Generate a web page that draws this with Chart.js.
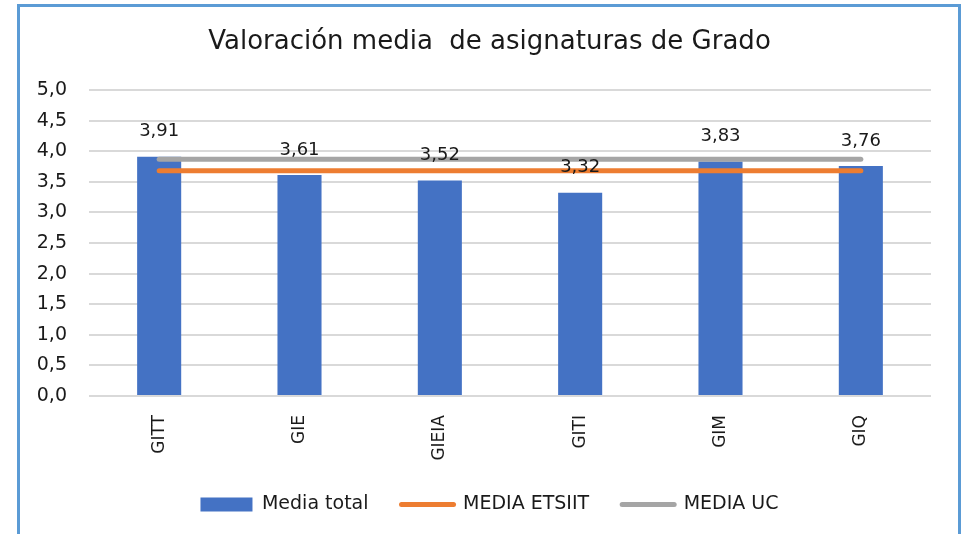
<!DOCTYPE html>
<html>
<head>
<meta charset="utf-8">
<script src="https://cdn.jsdelivr.net/npm/chart.js@4/dist/chart.umd.min.js"></script>
<style>
  html, body { margin: 0; padding: 0; background: #fff; overflow: hidden; }
  #wrap { position: relative; width: 962px; height: 534px; }
  #c { position: absolute; left: 0; top: 0; }
  #frame { position: absolute; left: 17px; top: 4px; width: 938px; height: 700px;
           border: 3px solid #5B9BD5; pointer-events: none; }
</style>
</head>
<body>
<div id="wrap">
  <canvas id="c" width="962" height="534"></canvas>
  <div id="frame"></div>
</div>
<script>
const TITLE = 'Valoración media  de asignaturas de Grado';
const CATEGORIES = ['GITT', 'GIE', 'GIEIA', 'GITI', 'GIM', 'GIQ'];
const MEDIA_TOTAL = [3.91, 3.61, 3.52, 3.32, 3.83, 3.76];
const MEDIA_ETSIIT = [3.68, 3.68, 3.68, 3.68, 3.68, 3.68];
const MEDIA_UC = [3.87, 3.87, 3.87, 3.87, 3.87, 3.87];
const Y_TICK_LABELS = ['0,0', '0,5', '1,0', '1,5', '2,0', '2,5', '3,0', '3,5', '4,0', '4,5', '5,0'];

const FONT = 'DejaVu Sans';
const TEXT = '#1a1a1a';
const PAD_L = 17;

const fmt = v => v.toFixed(2).replace('.', ',');

const dataLabels = {
  id: 'dataLabels',
  afterDatasetsDraw(chart) {
    const meta = chart.getDatasetMeta(0);
    const ctx = chart.ctx;
    ctx.save();
    ctx.font = '18px "' + FONT + '"';
    ctx.fillStyle = TEXT;
    ctx.textAlign = 'center';
    ctx.textBaseline = 'middle';
    meta.data.forEach((bar, i) => {
      ctx.fillText(fmt(MEDIA_TOTAL[i]), bar.x, bar.y - 25);
    });
    ctx.restore();
  }
};

new Chart(document.getElementById('c'), {
  type: 'bar',
  data: {
    labels: CATEGORIES,
    datasets: [
      {
        label: 'Media total',
        data: MEDIA_TOTAL,
        backgroundColor: '#4472C4',
        borderWidth: 0,
        categoryPercentage: 1,
        barPercentage: 0.314,
        pointStyle: 'rect',
        order: 3
      },
      {
        type: 'line',
        label: 'MEDIA ETSIIT',
        data: MEDIA_ETSIIT,
        borderColor: '#ED7D31',
        backgroundColor: '#ED7D31',
        borderWidth: 5,
        borderCapStyle: 'round',
        pointRadius: 0,
        pointHoverRadius: 0,
        pointStyle: 'line',
        fill: false,
        order: 2
      },
      {
        type: 'line',
        label: 'MEDIA UC',
        data: MEDIA_UC,
        borderColor: '#A5A5A5',
        backgroundColor: '#A5A5A5',
        borderWidth: 5,
        borderCapStyle: 'round',
        pointRadius: 0,
        pointHoverRadius: 0,
        pointStyle: 'line',
        fill: false,
        order: 1
      }
    ]
  },
  options: {
    responsive: false,
    animation: false,
    devicePixelRatio: 1,
    layout: { padding: { left: PAD_L, right: 0, top: 0, bottom: 10 } },
    plugins: {
      tooltip: { enabled: false },
      title: {
        display: true,
        text: TITLE,
        color: TEXT,
        font: { family: FONT, size: 26, weight: 'normal', lineHeight: 1.2 },
        padding: { top: 27, bottom: 31.8 }
      },
      legend: {
        position: 'bottom',
        labels: {
          usePointStyle: true,
          pointStyleWidth: 52,
          boxWidth: 52,
          boxHeight: 14,
          padding: 33,
          color: TEXT,
          font: { family: FONT, size: 19 },
          sort: (a, b) => a.datasetIndex - b.datasetIndex,
          generateLabels(chart) {
            const items = Chart.defaults.plugins.legend.labels.generateLabels(chart);
            items.forEach(it => {
              const ds = chart.data.datasets[it.datasetIndex];
              if (ds.type === 'line') {
                it.lineWidth = 5;
                it.lineCap = 'round';
                it.strokeStyle = ds.borderColor;
                it.pointStyle = 'line';
              } else {
                it.lineWidth = 0;
                it.fillStyle = ds.backgroundColor;
                it.pointStyle = 'rect';
              }
            });
            return items;
          }
        }
      }
    },
    scales: {
      x: {
        grid: { display: false },
        border: { display: false },
        ticks: {
          color: TEXT,
          font: { family: FONT, size: 17 },
          maxRotation: 90,
          minRotation: 90,
          autoSkip: false,
          padding: 11
        },
        afterFit(scale) { scale.height = 66; }
      },
      y: {
        min: 0,
        max: 5,
        border: { display: false },
        grid: { color: '#D9D9D9', lineWidth: 2, drawTicks: false },
        ticks: {
          stepSize: 0.5,
          color: TEXT,
          font: { family: FONT, size: 19 },
          padding: 22,
          callback: (v, i) => Y_TICK_LABELS[i]
        },
        afterFit(scale) { scale.width = 89 - PAD_L; }
      },
      yRight: {
        position: 'right',
        display: true,
        min: 0,
        max: 5,
        grid: { display: false, drawOnChartArea: false },
        border: { display: false },
        ticks: { display: false },
        afterFit(scale) { scale.width = 31; }
      }
    }
  },
  plugins: [dataLabels]
});
</script>
</body>
</html>
